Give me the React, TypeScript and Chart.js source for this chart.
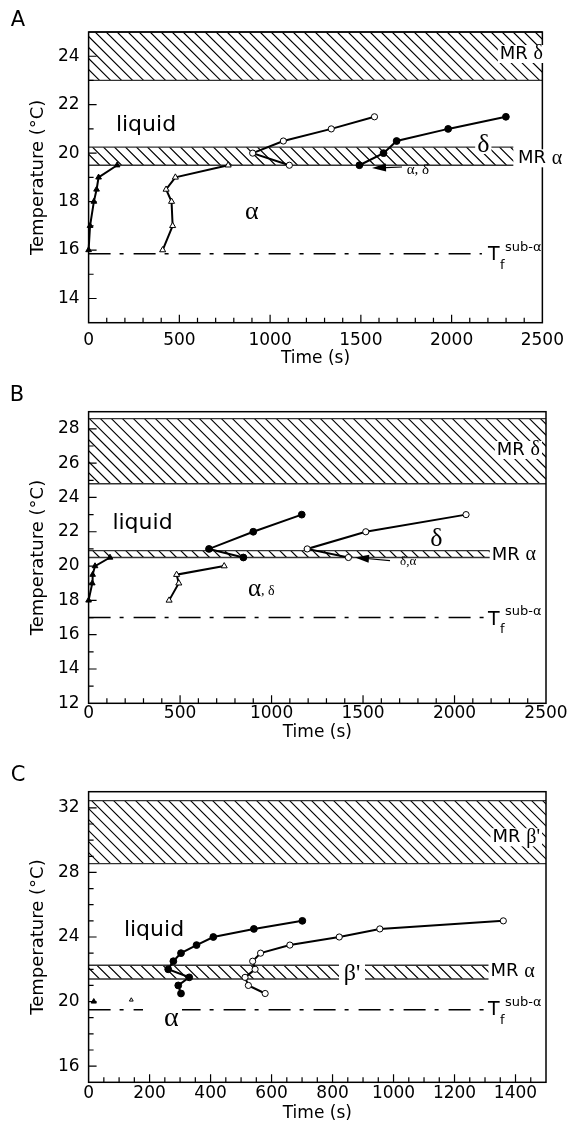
import React, { useEffect, useRef } from "react";
import { Chart, registerables } from "chart.js";

Chart.register(...registerables);

const W = 572;
const SANS = '"DejaVu Sans", "Liberation Sans", sans-serif';
const SERIF = '"Liberation Serif", "DejaVu Serif", serif';

// ---------------- Panel A data ----------------
const aXTicks = [0, 500, 1000, 1500, 2000, 2500];
const aYTicks = [14, 16, 18, 20, 22, 24];
const aTriFilledX = [0, 8, 29, 44, 55, 157];
const aTriFilledY = [16, 17, 18, 18.5, 19, 19.5];
const aTriOpenX = [408, 463, 457, 427, 478, 769];
const aTriOpenY = [16, 17, 18, 18.5, 19, 19.5];
const aCircOpenX = [1106, 904, 1073, 1337, 1575];
const aCircOpenY = [19.5, 20, 20.5, 21, 21.5];
const aCircFilledX = [1492, 1625, 1697, 1981, 2299];
const aCircFilledY = [19.5, 20, 20.5, 21, 21.5];
const aMRdelta = [23, 25];
const aMRalpha = [19.5, 20.25];
const aMRalphaEnd = 2340;
const aTsub = 15.85;
const aTsubEnd = 2167;

// ---------------- Panel B data ----------------
const bXTicks = [0, 500, 1000, 1500, 2000, 2500];
const bYTicks = [12, 14, 16, 18, 20, 22, 24, 26, 28];
const bTriFilledX = [0, 20, 22, 35, 117];
const bTriFilledY = [18, 19, 19.5, 20, 20.5];
const bTriOpenX = [440, 493, 481, 741];
const bTriOpenY = [18, 19, 19.5, 20];
const bCircFilledX = [846, 658, 900, 1165];
const bCircFilledY = [20.5, 21, 22, 23];
const bCircOpenX = [1420, 1195, 1515, 2063];
const bCircOpenY = [20.5, 21, 22, 23];
const bMRdelta = [24.8, 28.6];
const bMRalpha = [20.5, 20.9];
const bMRalphaEnd = 2195;
const bTsub = 17;
const bTsubEnd = 2175;

// ---------------- Panel C data ----------------
const cXTicks = [0, 200, 400, 600, 800, 1000, 1200, 1400];
const cYTicks = [16, 20, 24, 28, 32];
const cTriFilledX = [17];
const cTriFilledY = [20];
const cTriOpenX = [140];
const cTriOpenY = [20.1];
const cCircFilledX = [303, 294, 330, 261, 278, 303, 354, 409, 542, 701];
const cCircFilledY = [20.5, 21, 21.5, 22, 22.5, 23, 23.5, 24, 24.5, 25];
const cCircOpenX = [579, 524, 513, 546, 538, 564, 660, 822, 955, 1360];
const cCircOpenY = [20.5, 21, 21.5, 22, 22.5, 23, 23.5, 24, 24.5, 25];
const cMRbeta = [28.55, 32.45];
const cMRalpha = [21.4, 22.25];
const cMRalphaEnd = 1314;
const cTsub = 19.5;
const cTsubEnd = 1300;

// ---------------- helpers ----------------
const f = (size: number, fam: string) => `${size}px ${fam}`;
const mr = (g: string) => [
  { t: "MR ", font: f(18, SANS) },
  { t: g, font: f(20, SERIF) },
];

function series(x: number[], y: number[], style: string, filled: boolean, r: number) {
  return { x, y, style, filled, r };
}

const panels: any[] = [
  {
    letter: "A",
    top: 0,
    H: 375,
    plotTop: 32,
    plotBottom: 322.7,
    xMin: 0, xMax: 2500, yMin: 13, yMax: 25,
    xTicks: aXTicks, yTicks: aYTicks, xMinorStep: 100, yMinorStep: 1,
    xPad: 8, timeY: 359, letterPos: [18, 20.5],
    series: [
      series(aTriFilledX, aTriFilledY, "triangle", true, 3.3),
      series(aTriOpenX, aTriOpenY, "triangle", false, 3.5),
      series(aCircOpenX, aCircOpenY, "circle", false, 3.1),
      series(aCircFilledX, aCircFilledY, "circle", true, 3.4),
    ],
    bands: [
      { lo: aMRdelta[0], hi: aMRdelta[1] },
      { lo: aMRalpha[0], hi: aMRalpha[1], xEnd: aMRalphaEnd },
    ],
    tsub: aTsub, tsubEnd: aTsubEnd, tY: 255.5,
    labels: [
      { runs: [{ t: "liquid", font: f(22, SANS) }], x: 146, y: 125, align: "center" },
      { runs: [{ t: "α", font: f(26, SERIF) }], x: 251.7, y: 211.7, align: "center" },
      { runs: [{ t: "δ", font: f(26, SERIF) }], x: 483.3, y: 145, align: "center", bg: true },
      { runs: mr("δ"), x: 543, y: 54, align: "right", bg: true },
      { runs: mr("α"), x: 518, y: 158.3, align: "left", bg: true },
      { runs: [{ t: "α, δ", font: f(15, SERIF) }], x: 406.7, y: 170, align: "left" },
    ],
    arrows: [{ from: [402, 167], to: [372, 168] }],
  },
  {
    letter: "B",
    top: 375,
    H: 375,
    plotTop: 36.7,
    plotBottom: 328.3,
    xMin: 0, xMax: 2500, yMin: 12, yMax: 29,
    xTicks: bXTicks, yTicks: bYTicks, xMinorStep: 100, yMinorStep: 1,
    xPad: 0, timeY: 357.5, letterPos: [17, 20.8],
    series: [
      series(bTriFilledX, bTriFilledY, "triangle", true, 3.3),
      series(bTriOpenX, bTriOpenY, "triangle", false, 3.5),
      series(bCircFilledX, bCircFilledY, "circle", true, 3.4),
      series(bCircOpenX, bCircOpenY, "circle", false, 3.1),
    ],
    bands: [
      { lo: bMRdelta[0], hi: bMRdelta[1] },
      { lo: bMRalpha[0], hi: bMRalpha[1], xEnd: bMRalphaEnd },
    ],
    tsub: bTsub, tsubEnd: bTsubEnd, tY: 245,
    labels: [
      { runs: [{ t: "liquid", font: f(22, SANS) }], x: 142.5, y: 148.3, align: "center" },
      {
        runs: [
          { t: "α", font: f(25, SERIF) },
          { t: ", δ", font: f(14, SERIF), dy: 2 },
        ],
        x: 248, y: 214, align: "left",
      },
      { runs: [{ t: "δ", font: f(26, SERIF) }], x: 436.3, y: 163.7, align: "center" },
      { runs: mr("δ"), x: 540, y: 75, align: "right", bg: true },
      { runs: mr("α"), x: 491.7, y: 180, align: "left", bg: true },
      { runs: [{ t: "δ,α", font: f(13, SERIF) }], x: 400, y: 186.7, align: "left" },
    ],
    arrows: [{ from: [390, 185.7], to: [355, 182.5] }],
  },
  {
    letter: "C",
    top: 750,
    H: 377,
    plotTop: 41.7,
    plotBottom: 332.3,
    xMin: 0, xMax: 1500, yMin: 15, yMax: 33,
    xTicks: cXTicks, yTicks: cYTicks, xMinorStep: 50, yMinorStep: 1,
    xPad: 1.5, timeY: 364, letterPos: [18, 26],
    series: [
      series(cTriFilledX, cTriFilledY, "triangle", true, 3),
      series(cTriOpenX, cTriOpenY, "triangle", false, 2.2),
      series(cCircFilledX, cCircFilledY, "circle", true, 3.4),
      series(cCircOpenX, cCircOpenY, "circle", false, 3.1),
    ],
    bands: [
      { lo: cMRbeta[0], hi: cMRbeta[1] },
      { lo: cMRalpha[0], hi: cMRalpha[1], xEnd: cMRalphaEnd },
    ],
    tsub: cTsub, tsubEnd: cTsubEnd, tY: 260.5,
    labels: [
      { runs: [{ t: "liquid", font: f(22, SANS) }], x: 154, y: 180, align: "center" },
      { runs: [{ t: "α", font: f(28, SERIF) }], x: 171.3, y: 269, align: "center", bgRect: [143, 255, 39, 24] },
      { runs: [{ t: "β'", font: f(24, SERIF) }], x: 352, y: 224, align: "center", bgRect: [339, 212, 26, 19] },
      { runs: [{ t: "MR ", font: f(18, SANS) }, { t: "β'", font: f(20, SERIF) }], x: 540, y: 87.3, align: "right", bg: true },
      { runs: mr("α"), x: 490.5, y: 221.7, align: "left", bg: true },
    ],
    arrows: [],
  },
];

function drawRuns(ctx: CanvasRenderingContext2D, lab: any) {
  ctx.save();
  ctx.textBaseline = "middle";
  ctx.textAlign = "left";
  const widths = lab.runs.map((r: any) => {
    ctx.font = r.font;
    return ctx.measureText(r.t).width;
  });
  const total = widths.reduce((a: number, b: number) => a + b, 0);
  let x0 = lab.x;
  if (lab.align === "center") x0 = lab.x - total / 2;
  if (lab.align === "right") x0 = lab.x - total;
  if (lab.bgRect) {
    ctx.fillStyle = "#fff";
    const [bx, by, bw, bh] = lab.bgRect;
    ctx.fillRect(bx, by, bw, bh);
  } else if (lab.bg) {
    ctx.fillStyle = "#fff";
    ctx.fillRect(x0 - 2, lab.y - 9, total + 4, 18);
  }
  ctx.fillStyle = "#000";
  let x = x0;
  lab.runs.forEach((r: any, i: number) => {
    ctx.font = r.font;
    ctx.fillText(r.t, x, lab.y + (r.dy || 0));
    x += widths[i];
  });
  ctx.restore();
}

function decorPlugin(p: any) {
  return {
    id: "decor" + p.letter,
    beforeDatasetsDraw(chart: any) {
      const { ctx } = chart;
      const xs = chart.scales.x;
      const ys = chart.scales.y;
      ctx.save();
      for (const b of p.bands) {
        const x0 = xs.getPixelForValue(p.xMin);
        const x1 = xs.getPixelForValue(b.xEnd ?? p.xMax);
        const yT = ys.getPixelForValue(b.hi);
        const yB = ys.getPixelForValue(b.lo);
        const h = yB - yT;
        ctx.save();
        ctx.beginPath();
        ctx.rect(x0, yT, x1 - x0, h);
        ctx.clip();
        ctx.strokeStyle = "#000";
        ctx.lineWidth = 1.15;
        ctx.beginPath();
        const sp = 11;
        for (let s = x0 - h - sp; s < x1 + sp; s += sp) {
          ctx.moveTo(s, yT);
          ctx.lineTo(s + h, yB);
        }
        ctx.stroke();
        ctx.restore();
        ctx.strokeStyle = "#333";
        ctx.lineWidth = 1.3;
        ctx.beginPath();
        ctx.moveTo(x0, yT);
        ctx.lineTo(x1, yT);
        ctx.moveTo(x0, yB);
        ctx.lineTo(x1, yB);
        ctx.stroke();
      }
      // T_f sub-alpha dash-dot line
      const yd = ys.getPixelForValue(p.tsub);
      ctx.setLineDash([22, 9, 4, 10]);
      ctx.strokeStyle = "#000";
      ctx.lineWidth = 1.5;
      ctx.beginPath();
      ctx.moveTo(xs.getPixelForValue(p.xMin), yd);
      ctx.lineTo(xs.getPixelForValue(p.tsubEnd), yd);
      ctx.stroke();
      ctx.setLineDash([]);
      ctx.restore();
    },
    afterDraw(chart: any) {
      const { ctx, chartArea: ca } = chart;
      const xs = chart.scales.x;
      const ys = chart.scales.y;
      ctx.save();
      // frame
      ctx.strokeStyle = "#000";
      ctx.lineWidth = 1.5;
      ctx.strokeRect(ca.left, ca.top, ca.right - ca.left, ca.bottom - ca.top);
      // inward ticks
      ctx.lineWidth = 1.2;
      ctx.beginPath();
      for (let v = p.yMin; v <= p.yMax + 1e-9; v += p.yMinorStep) {
        if (v === p.yMin || v === p.yMax) continue;
        const py = ys.getPixelForValue(v);
        const len = p.yTicks.includes(v) ? 8 : 5;
        ctx.moveTo(ca.left, py);
        ctx.lineTo(ca.left + len, py);
      }
      for (let v = p.xMin; v <= p.xMax + 1e-9; v += p.xMinorStep) {
        if (v === p.xMin || v === p.xMax) continue;
        const px = xs.getPixelForValue(v);
        const len = p.xTicks.includes(v) ? 8 : 5;
        ctx.moveTo(px, ca.bottom);
        ctx.lineTo(px, ca.bottom - len);
      }
      ctx.stroke();

      // arrows
      for (const a of p.arrows) {
        const [tx, ty] = a.to;
        const [fx, fy] = a.from;
        const ang = Math.atan2(ty - fy, tx - fx);
        const hl = 14;
        const hw = 4;
        const bx = tx - hl * Math.cos(ang);
        const by = ty - hl * Math.sin(ang);
        ctx.lineWidth = 1.2;
        ctx.beginPath();
        ctx.moveTo(fx, fy);
        ctx.lineTo(bx, by);
        ctx.stroke();
        ctx.fillStyle = "#000";
        ctx.beginPath();
        ctx.moveTo(tx, ty);
        ctx.lineTo(bx - hw * Math.sin(ang), by + hw * Math.cos(ang));
        ctx.lineTo(bx + hw * Math.sin(ang), by - hw * Math.cos(ang));
        ctx.closePath();
        ctx.fill();
      }

      // labels
      for (const lab of p.labels) drawRuns(ctx, lab);

      // T_f^{sub-alpha}
      drawRuns(ctx, {
        runs: [{ t: "T", font: f(19, SANS) }],
        x: 488, y: p.tY, align: "left",
      });
      drawRuns(ctx, { runs: [{ t: "f", font: f(13, SANS) }], x: 500, y: p.tY + 10, align: "left" });
      drawRuns(ctx, { runs: [{ t: "sub-α", font: f(13, SANS) }], x: 505, y: p.tY - 8, align: "left" });

      // axis titles
      ctx.fillStyle = "#000";
      ctx.textBaseline = "middle";
      ctx.textAlign = "center";
      ctx.font = f(17, SANS);
      ctx.fillText("Time (s)", (ca.left + ca.right) / 2, p.timeY);
      ctx.save();
      ctx.translate(38.3, (ca.top + ca.bottom) / 2);
      ctx.rotate(-Math.PI / 2);
      ctx.font = f(18, SANS);
      ctx.fillText("Temperature (°C)", 0, 0);
      ctx.restore();
      // panel letter
      ctx.font = f(21, SANS);
      ctx.fillText(p.letter, p.letterPos[0], p.letterPos[1]);
      ctx.restore();
    },
  };
}

function makeConfig(p: any): any {
  return {
    type: "line",
    data: {
      datasets: p.series.map((s: any) => ({
        data: s.x.map((x: number, i: number) => ({ x, y: s.y[i] })),
        borderColor: "#000",
        borderWidth: 2,
        pointStyle: s.style,
        pointRadius: s.r,
        pointBackgroundColor: s.filled ? "#000" : "#fff",
        pointBorderColor: "#000",
        pointBorderWidth: 1,
        showLine: true,
        tension: 0,
        fill: false,
        clip: false,
      })),
    },
    options: {
      animation: false,
      responsive: false,
      maintainAspectRatio: false,
      events: [],
      layout: { padding: { left: 0, right: W - 546, top: p.plotTop, bottom: 0 } },
      plugins: { legend: { display: false }, tooltip: { enabled: false }, title: { display: false } },
      scales: {
        x: {
          type: "linear",
          min: p.xMin,
          max: p.xMax,
          grid: { display: false, drawTicks: false },
          border: { display: false },
          afterBuildTicks: (s: any) => {
            s.ticks = p.xTicks.map((v: number) => ({ value: v }));
          },
          afterFit: (s: any) => {
            s.height = p.H - p.plotBottom;
          },
          ticks: {
            autoSkip: false,
            maxRotation: 0,
            padding: p.xPad,
            color: "#000",
            font: { family: SANS, size: 17 },
            callback: (v: any) => String(v),
          },
        },
        y: {
          type: "linear",
          min: p.yMin,
          max: p.yMax,
          grid: { display: false, drawTicks: false },
          border: { display: false },
          afterBuildTicks: (s: any) => {
            s.ticks = p.yTicks.map((v: number) => ({ value: v }));
          },
          afterFit: (s: any) => {
            s.width = 88.6;
          },
          ticks: {
            autoSkip: false,
            padding: 9,
            color: "#000",
            font: { family: SANS, size: 17 },
            callback: (v: any) => String(v),
          },
        },
      },
    },
    plugins: [decorPlugin(p)],
  };
}

function Panel({ p }: { p: any }) {
  const ref = useRef<HTMLCanvasElement>(null);
  useEffect(() => {
    if (!ref.current) return;
    const chart = new Chart(ref.current, makeConfig(p));
    return () => chart.destroy();
  }, [p]);
  return (
    <canvas
      ref={ref}
      width={W}
      height={p.H}
      style={{ position: "absolute", left: 0, top: p.top, width: W, height: p.H, display: "block" }}
    />
  );
}

export default function App() {
  return (
    <div style={{ position: "absolute", left: 0, top: 0, width: W, height: 1127, background: "#fff" }}>
      {panels.map((p) => (
        <Panel key={p.letter} p={p} />
      ))}
    </div>
  );
}
